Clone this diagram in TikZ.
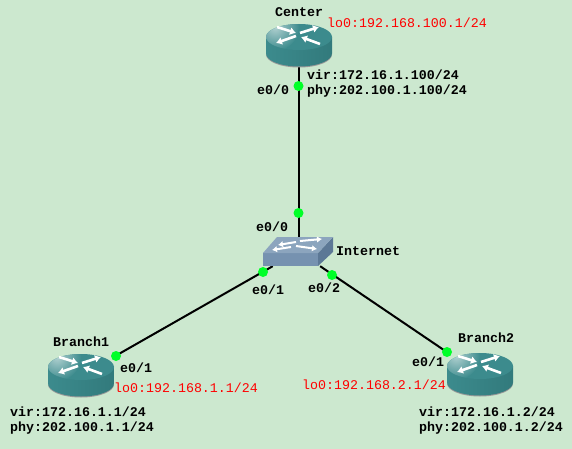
\documentclass[tikz,border=0pt]{standalone}
\usepackage{fontspec}
\setmonofont{Liberation Mono}
\usetikzlibrary{arrows.meta,positioning}
\definecolor{bgGreen}{RGB}{204,232,207}
\definecolor{routerTeal}{RGB}{60,139,141}
\definecolor{routerDark}{RGB}{50,122,124}
\definecolor{routerLight}{RGB}{176,208,208}
\definecolor{switchTop}{RGB}{140,165,190}
\definecolor{switchFront}{RGB}{118,146,176}
\definecolor{switchSide}{RGB}{92,120,150}
\definecolor{portGreen}{RGB}{0,255,40}
\definecolor{addrRed}{RGB}{255,0,0}
\tikzset{
  routernode/.style={minimum width=66pt,minimum height=43pt,inner sep=0pt},
  switchnode/.style={minimum width=70pt,minimum height=29pt,inner sep=0pt},
  link/.style={black,line width=2pt},
  portdot/.style={circle,fill=portGreen,inner sep=0pt,minimum size=10pt},
  devlabel/.style={font=\ttfamily\bfseries\fontsize{13.3}{15}\selectfont,anchor=west,inner sep=0pt,align=left,text=black},
  addrlabel/.style={font=\ttfamily\fontsize{13.3}{15}\selectfont,anchor=west,inner sep=0pt,text=addrRed},
  whitearrow/.style={white,line width=2.6pt,-{Latex[length=6pt,width=8pt]}},
  routerpic/.pic={
    \fill[gray!80] (-33,17.5) arc[start angle=180,end angle=0,x radius=33,y radius=13] -- cycle;
    \shade[left color=routerTeal,right color=routerDark] (-33,0) -- (-33,16.5) arc[start angle=180,end angle=0,x radius=33,y radius=13] -- (33,0) -- cycle;
    \fill[routerTeal] (0,0) ellipse[x radius=33,y radius=13];
    \begin{scope}
    \clip (0,0) ellipse[x radius=33,y radius=13];
    \shade[inner color=routerLight,outer color=routerTeal] (-24,-10) circle[radius=24];
    \end{scope}
    \draw[whitearrow] (-22,-10) -- (-3,-4);
    \draw[whitearrow] (1,-4) -- (20,-10);
    \draw[whitearrow] (-3,-1) -- (-23,6);
    \draw[whitearrow] (21,7) -- (2,0);
  },
}
\begin{document}
\begin{tikzpicture}[x=1pt,y=-1pt]
\fill[bgGreen] (0,0) rectangle (572,449);
\useasboundingbox (0,0) rectangle (572,449);

\node[routernode] (center) at (298.5,45.5) {};
\node[routernode] (branchone) at (81,375.5) {};
\node[routernode] (branchtwo) at (480,374.5) {};
\node[switchnode] (internet) at (298.5,251.5) {};

\draw[link] (center) -- (internet);
\draw[link] (branchone) -- (internet);
\draw[link] (branchtwo) -- (internet);

\pic at (299,37) {routerpic};
\pic at (81,367) {routerpic};
\pic at (480,366) {routerpic};

% switch body
\fill[switchFront] (263,253) rectangle (318,266);
\fill[switchSide] (318,253) -- (333,237) -- (333,252) -- (318,266) -- cycle;
\fill[switchTop] (277,237) -- (333,237) -- (318,253) -- (263,253) -- cycle;
\begin{scope}[white,line width=2pt,-{Latex[length=5pt,width=6.5pt]}]
\draw (296,242) -- (278,245);
\draw (300,241) -- (322,239);
\draw (291,247) -- (272,250);
\draw (296,246) -- (317,249);
\end{scope}

\node[portdot] (p1) at (298.5,86) {};
\node[portdot] (p2) at (298.5,213) {};
\node[portdot] (p3) at (263,272) {};
\node[portdot] (p4) at (332,275) {};
\node[portdot] (p5) at (116,356) {};
\node[portdot] (p6) at (447,352) {};

\node[devlabel] (lcenter) at (275,12) {Center};
\node[addrlabel] (acenter) at (327,23) {lo0:192.168.100.1/24};
\node[devlabel] (vcenter) at (307,84) {vir:172.16.1.100/24\\phy:202.100.1.100/24};
\node[devlabel] (e1) at (257,90) {e0/0};
\node[devlabel] (e2) at (256,227) {e0/0};
\node[devlabel] (linternet) at (336,251) {Internet};
\node[devlabel] (e3) at (252,290) {e0/1};
\node[devlabel] (e4) at (308,288) {e0/2};

\node[devlabel] (lbranchone) at (53,342) {Branch1};
\node[devlabel] (e5) at (120,368) {e0/1};
\node[addrlabel] (abranchone) at (114,388) {lo0:192.168.1.1/24};
\node[devlabel] (vbranchone) at (10,420.5) {vir:172.16.1.1/24\\phy:202.100.1.1/24};

\node[devlabel] (lbranchtwo) at (458,338) {Branch2};
\node[devlabel] (e6) at (412,362) {e0/1};
\node[addrlabel] (abranchtwo) at (302,385) {lo0:192.168.2.1/24};
\node[devlabel] (vbranchtwo) at (419,420.5) {vir:172.16.1.2/24\\phy:202.100.1.2/24};
\end{tikzpicture}
\end{document}
